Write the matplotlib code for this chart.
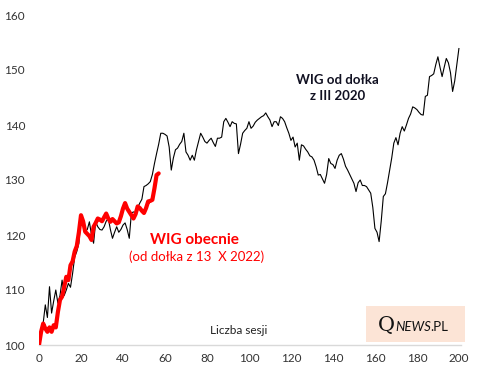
import matplotlib
matplotlib.use("Agg")
import matplotlib.pyplot as plt
from matplotlib.patches import Rectangle

# WIG from the March 2020 low (index, low = 100)
wig_2020 = [
    100, 102, 104, 107.3, 105, 110.6, 105.8, 108, 110, 107.6,
    109, 111.8, 109, 110, 111.2, 110.5, 113, 116, 117, 118.5,
    123.3, 122, 120.6, 121, 122.4, 120, 118.5, 122.4, 121.5, 121,
    120.9, 121.5, 122.5, 123, 121, 119.4, 120.5, 121.5, 120.5, 121,
    121.8, 122.2, 121, 119.4, 124, 124.2, 124, 125, 125.8, 126.5,
    128.8, 129, 129.3, 129.7, 131, 133, 134.8, 136.5, 138.5, 138.5,
    138.3, 138, 136, 131.8, 134, 135.5, 135.8, 136.5, 137, 138.5,
    135.1, 134.5, 133.6, 134.5, 133.6, 135.5, 137, 138.5, 137.8, 137,
    136.7, 137.2, 137.6, 136.8, 136.1, 137.6, 137.6, 137.8, 140.6, 141.2,
    140.5, 139.7, 140.6, 140.3, 140.2, 134.8, 136.5, 138.5, 139, 139.4,
    140.6, 139.4, 139.8, 140.5, 140.9, 141.2, 141.5, 141.7, 142.2, 141.5,
    140.9, 139.7, 140.6, 140.6, 139.9, 141.5, 141.2, 140.6, 139.5, 138.5,
    137.2, 137.8, 136, 136.7, 133.6, 136.4, 136.2, 135.6, 135.1, 134.4,
    134.2, 133.6, 132.4, 130.9, 131, 130.2, 129.4, 131, 133.9, 133,
    132.8, 132.1, 133.6, 134.5, 134.8, 133.8, 132.5, 131.8, 131, 130.2,
    129.4, 127.9, 129.5, 130, 129, 129, 128.8, 128.2, 127.6, 125,
    121.2, 120.5, 118.8, 122.5, 127, 127.5, 129.5, 131.8, 134, 136.7,
    137.7, 136.4, 138.5, 139.7, 138.9, 140, 141.2, 142, 143.3, 143.1,
    142.8, 142.3, 141.9, 141.8, 145.2, 145.4, 148.8, 149, 149.3, 151,
    152.4, 150.5, 148.8, 150.5, 152.1, 151.3, 149.5, 146.1, 148, 151,
    153.9,
]

# WIG from the 13 X 2022 low (index, low = 100)
wig_now = [
    100, 102.4, 103.9, 103, 102.4, 103.2, 102.4, 103.6, 103.2, 106,
    108.2, 108.8, 110.5, 112.4, 111.8, 114.5, 115.2, 117, 118, 120.5,
    123.6, 122.5, 120.6, 120.2, 119.8, 119.1, 121.5, 122.2, 123, 122.8,
    122.5, 123.2, 123.9, 123, 122.4, 122.9, 122.5, 122.1, 122.3, 123.4,
    124.8, 125.8, 124.8, 124.2, 123.6, 123, 123.8, 125.2, 124.9, 124.4,
    124, 124.9, 126.1, 126.2, 126.4, 128.5, 130.9, 131.2,
]

x_ticks = list(range(0, 201, 20))
y_ticks = list(range(100, 161, 10))

FONT = ["Lato", "DejaVu Sans"]

fig = plt.figure(figsize=(4.83, 3.77), dpi=100)
ax = fig.add_axes([39 / 483, 32 / 377, (461 - 39) / 483, (345 - 15) / 377])

ax.plot(range(len(wig_2020)), wig_2020, color="black", lw=0.8, zorder=2)
ax.plot(range(len(wig_now)), wig_now, color="#ff0000", lw=3.0, zorder=3,
        solid_joinstyle="round", solid_capstyle="round")

ax.set_xlim(0, 201)
ax.set_ylim(100, 160)
ax.set_xticks(x_ticks)
ax.set_yticks(y_ticks)
ax.tick_params(length=0, labelsize=8.5, colors="#333333", pad=6)
for lab in ax.get_xticklabels() + ax.get_yticklabels():
    lab.set_family(FONT)
ax.tick_params(axis="y", pad=10)
for s in ["top", "right", "left"]:
    ax.spines[s].set_visible(False)
ax.spines["bottom"].set_color("#d9d9d9")
ax.spines["bottom"].set_linewidth(1.0)
ax.spines["bottom"].set_zorder(1)

ax.text(142, 146.8, "WIG od dołka\nz III 2020", ha="center", va="center",
        fontsize=9.5, fontweight="bold", color="#111122", family=FONT,
        linespacing=1.4)
ax.text(74, 119.1, "WIG obecnie", ha="center", va="center",
        fontsize=11, fontweight="bold", color="#ff0000", family=FONT)
ax.text(75, 116.0, "(od dołka z 13  X 2022)", ha="center", va="center",
        fontsize=9.5, color="#ff0000", family=FONT)
ax.text(95, 102.6, "Liczba sesji", ha="center", va="center",
        fontsize=8.5, color="#222222", family=FONT)

# logo box
box = Rectangle((366 / 483, (377 - 342) / 377), 99 / 483, 36 / 377,
                transform=fig.transFigure, facecolor="#fce4d6",
                edgecolor="none", zorder=0)
fig.patches.append(box)
fig.text(378 / 483, (377 - 326) / 377, "Q", ha="left", va="center",
         fontsize=15, family="DejaVu Serif", color="#111111")
fig.text(395 / 483, (377 - 327) / 377, "NEWS", ha="left", va="center",
         fontsize=9.5, style="italic", family=FONT, color="#111111")
fig.text(430 / 483, (377 - 327) / 377, ".PL", ha="left", va="center",
         fontsize=9.5, family=FONT, color="#111111")

fig.savefig("out.png", dpi=100, facecolor="white")
